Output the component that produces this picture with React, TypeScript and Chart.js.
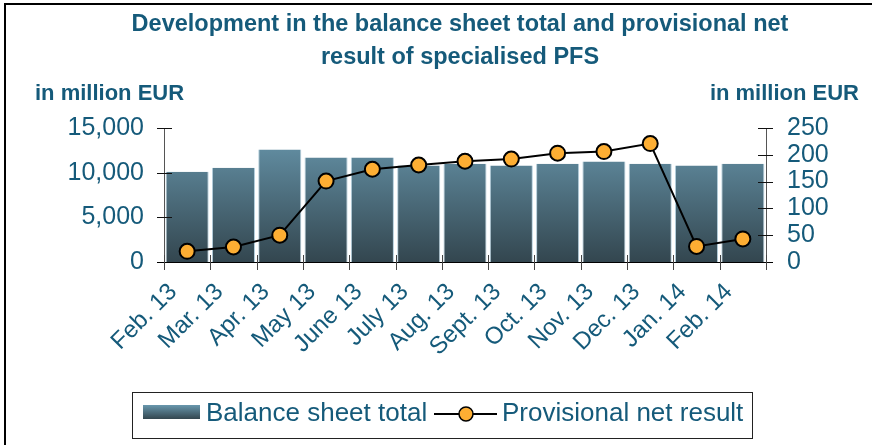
import React, { useEffect, useRef } from "react";
import { Chart, registerables } from "chart.js";

Chart.register(...registerables);

const categories = ["Feb. 13", "Mar. 13", "Apr. 13", "May 13", "June 13", "July 13", "Aug. 13", "Sept. 13", "Oct. 13", "Nov. 13", "Dec. 13", "Jan. 14", "Feb. 14"];
const balanceSheetTotal = [10100, 10550, 12600, 11700, 11700, 10800, 11000, 10800, 11000, 11250, 11000, 10800, 11000];
const provisionalNetResult = [20, 28, 50, 151, 173, 181, 188, 192, 203, 206, 221, 29, 43];
const leftAxisMax = 15000;
const leftAxisStep = 5000;
const rightAxisMax = 250;
const rightAxisStep = 50;
const titleLines = ["Development in the balance sheet total and provisional net", "result of specialised PFS"];
const unitLabel = "in million EUR";
const seriesNames = ["Balance sheet total", "Provisional net result"];

const TEXT = "#155A7A";
const FONT = "'Liberation Sans', Arial, sans-serif";
const W = 872;
const H = 445;

function barGradient(ctx: CanvasRenderingContext2D, top: number, bottom: number) {
  const g = ctx.createLinearGradient(0, top, 0, bottom);
  g.addColorStop(0, "#6897AD");
  g.addColorStop(1, "#33464F");
  return g;
}

const decorPlugin = {
  id: "decor",
  beforeDraw(chart: any) {
    const ctx = chart.ctx as CanvasRenderingContext2D;
    ctx.save();
    ctx.fillStyle = "#fff";
    ctx.fillRect(0, 0, W, H);
    // frame
    ctx.strokeStyle = "#000";
    ctx.lineWidth = 2;
    ctx.beginPath();
    ctx.moveTo(5, H + 5);
    ctx.lineTo(5, 4);
    ctx.lineTo(W + 5, 4);
    ctx.stroke();
    // title
    ctx.fillStyle = TEXT;
    ctx.textAlign = "center";
    ctx.textBaseline = "middle";
    ctx.font = `bold 23.5px ${FONT}`;
    ctx.fillText(titleLines[0], 460, 25);
    ctx.fillText(titleLines[1], 460, 58);
    ctx.font = `bold 22px ${FONT}`;
    ctx.textAlign = "left";
    ctx.fillText(unitLabel, 35, 94);
    ctx.textAlign = "right";
    ctx.fillText(unitLabel, 859, 94);
    ctx.restore();
  },
  afterDatasetsDraw(chart: any) {
    const ctx = chart.ctx as CanvasRenderingContext2D;
    const { left, right, top, bottom } = chart.chartArea;
    const x = chart.scales.x;
    const y = chart.scales.y;
    const y1 = chart.scales.y1;
    ctx.save();
    ctx.lineWidth = 1;
    // vertical axis lines
    ctx.strokeStyle = "#555";
    ctx.beginPath();
    ctx.moveTo(Math.round(left) + 0.5, top);
    ctx.lineTo(Math.round(left) + 0.5, bottom);
    ctx.moveTo(Math.round(right) + 0.5, top);
    ctx.lineTo(Math.round(right) + 0.5, bottom);
    ctx.stroke();
    ctx.strokeStyle = "#111";
    ctx.beginPath();
    for (const t of y.ticks) {
      const py = Math.round(y.getPixelForValue(t.value)) + 0.5;
      ctx.moveTo(left - 7, py);
      ctx.lineTo(left + 8, py);
    }
    for (const t of y1.ticks) {
      const py = Math.round(y1.getPixelForValue(t.value)) + 0.5;
      ctx.moveTo(right - 8, py);
      ctx.lineTo(right + 7, py);
    }
    ctx.stroke();
    // x axis line
    ctx.strokeStyle = "#000";
    ctx.beginPath();
    ctx.moveTo(left - 7, Math.round(bottom) + 0.5);
    ctx.lineTo(right + 7, Math.round(bottom) + 0.5);
    ctx.stroke();
    // category boundary ticks
    ctx.strokeStyle = "#444";
    ctx.beginPath();
    const n = categories.length;
    for (let i = 0; i <= n; i++) {
      let px: number;
      if (i === 0) px = left;
      else if (i === n) px = right;
      else px = (x.getPixelForValue(i - 1) + x.getPixelForValue(i)) / 2;
      px = Math.round(px) + 0.5;
      ctx.moveTo(px, bottom - 7);
      ctx.lineTo(px, bottom + 8);
    }
    ctx.stroke();
    ctx.restore();
  },
  afterDraw(chart: any) {
    const ctx = chart.ctx as CanvasRenderingContext2D;
    ctx.save();
    // legend box
    ctx.strokeStyle = "#222";
    ctx.lineWidth = 1;
    ctx.strokeRect(132.5, 392.5, 620, 46);
    ctx.fillStyle = barGradient(ctx, 405, 419);
    ctx.fillRect(143, 405, 57, 14);
    ctx.fillStyle = TEXT;
    ctx.font = `26px ${FONT}`;
    ctx.textAlign = "left";
    ctx.textBaseline = "middle";
    ctx.fillText(seriesNames[0], 206, 414);
    ctx.strokeStyle = "#000";
    ctx.lineWidth = 2;
    ctx.beginPath();
    ctx.moveTo(434, 414);
    ctx.lineTo(497, 414);
    ctx.stroke();
    ctx.beginPath();
    ctx.arc(466, 414, 7, 0, Math.PI * 2);
    ctx.fillStyle = "#FDAE33";
    ctx.fill();
    ctx.lineWidth = 1.5;
    ctx.stroke();
    ctx.fillStyle = TEXT;
    ctx.fillText(seriesNames[1], 502, 414);
    ctx.restore();
  },
};

export default function App() {
  const ref = useRef<HTMLCanvasElement | null>(null);
  useEffect(() => {
    if (!ref.current) return;
    const chart = new Chart(ref.current, {
      type: "bar",
      data: {
        labels: categories,
        datasets: [
          {
            type: "line",
            label: seriesNames[1],
            data: provisionalNetResult,
            yAxisID: "y1",
            borderColor: "#000",
            borderWidth: 2,
            pointRadius: 7.5,
            pointBackgroundColor: "#FDAE33",
            pointBorderColor: "#000",
            pointBorderWidth: 2,
            tension: 0,
            order: 0,
          } as any,
          {
            type: "bar",
            label: seriesNames[0],
            data: balanceSheetTotal,
            yAxisID: "y",
            backgroundColor: (c: any) => {
              const area = c.chart.chartArea;
              if (!area) return "#55798A";
              return barGradient(c.chart.ctx, area.top, area.bottom);
            },
            borderColor: "rgba(170,200,215,0.9)",
            borderWidth: { left: 1, right: 1, top: 0, bottom: 0 },
            borderSkipped: false,
            barPercentage: 0.93,
            categoryPercentage: 1,
            order: 1,
          },
        ],
      },
      options: {
        responsive: false,
        animation: false,
        devicePixelRatio: 1,
        layout: { padding: { top: 128, left: 0, right: 0, bottom: 0 } },
        plugins: { legend: { display: false }, title: { display: false }, tooltip: { enabled: false } },
        scales: {
          x: {
            type: "category",
            offset: true,
            grid: { display: false, drawTicks: false },
            border: { display: false },
            ticks: {
              minRotation: 45,
              maxRotation: 45,
              autoSkip: false,
              color: TEXT,
              font: { family: FONT, size: 24 },
              padding: 16,
              labelOffset: -14,
            },
            afterFit: (s: any) => {
              s.height = 183;
            },
          },
          y: {
            position: "left",
            min: 0,
            max: leftAxisMax,
            grid: { display: false, drawTicks: false },
            border: { display: false },
            ticks: {
              stepSize: leftAxisStep,
              autoSkip: false,
              color: TEXT,
              font: { family: FONT, size: 25 },
              padding: 20,
              callback: (v: any) => Number(v).toLocaleString("en-US"),
            },
            afterFit: (s: any) => {
              s.width = 164;
            },
          },
          y1: {
            position: "right",
            min: 0,
            max: rightAxisMax,
            grid: { display: false, drawTicks: false },
            border: { display: false },
            ticks: {
              stepSize: rightAxisStep,
              autoSkip: false,
              color: TEXT,
              font: { family: FONT, size: 25 },
              padding: 21,
            },
            afterFit: (s: any) => {
              s.width = 106;
            },
          },
        },
      },
      plugins: [decorPlugin],
    });
    return () => chart.destroy();
  }, []);
  return (
    <div style={{ position: "fixed", left: 0, top: 0, width: W, height: H, background: "#fff" }}>
      <canvas ref={ref} width={W} height={H} style={{ display: "block", width: W, height: H }} />
    </div>
  );
}
